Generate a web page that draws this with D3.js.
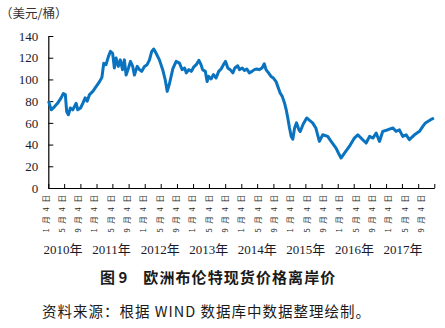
<!DOCTYPE html>
<html><head><meta charset="utf-8">
<script src="https://cdn.jsdelivr.net/npm/d3@7"></script>
<style>body{margin:0;background:#fff}svg{display:block}</style>
</head><body>
<svg id="c" width="445" height="328"></svg>
<script>
const dates = ["2010-01-06","2010-01-26","2010-02-21","2010-03-15","2010-04-11","2010-04-28","2010-05-13","2010-05-23","2010-06-05","2010-06-20","2010-07-08","2010-08-03","2010-08-15","2010-09-05","2010-09-22","2010-10-10","2010-10-25","2010-11-12","2010-12-07","2011-01-02","2011-01-27","2011-02-14","2011-02-28","2011-03-17","2011-04-04","2011-04-19","2011-05-06","2011-05-19","2011-06-01","2011-06-18","2011-07-03","2011-07-20","2011-08-03","2011-08-16","2011-09-03","2011-09-18","2011-10-05","2011-10-18","2011-11-08","2011-11-25","2011-12-12","2012-01-02","2012-01-22","2012-02-09","2012-02-26","2012-03-12","2012-03-29","2012-04-24","2012-05-19","2012-06-07","2012-06-22","2012-07-09","2012-08-04","2012-08-29","2012-09-23","2012-10-13","2012-11-01","2012-11-14","2012-12-03","2012-12-21","2013-01-08","2013-01-28","2013-02-17","2013-03-05","2013-03-17","2013-04-07","2013-04-20","2013-05-02","2013-05-20","2013-06-07","2013-06-27","2013-07-17","2013-08-04","2013-08-22","2013-09-07","2013-09-24","2013-10-12","2013-11-01","2013-11-16","2013-12-08","2013-12-21","2014-01-11","2014-01-28","2014-02-15","2014-03-06","2014-03-26","2014-04-13","2014-04-30","2014-05-20","2014-06-10","2014-06-27","2014-07-10","2014-07-29","2014-08-17","2014-09-04","2014-09-24","2014-10-07","2014-10-25","2014-11-10","2014-11-27","2014-12-10","2014-12-22","2015-01-04","2015-01-17","2015-01-29","2015-02-11","2015-02-26","2015-03-15","2015-03-26","2015-04-18","2015-05-14","2015-06-07","2015-06-28","2015-07-23","2015-08-18","2015-09-12","2015-10-20","2015-11-15","2015-12-22","2016-01-10","2016-01-29","2016-02-24","2016-04-01","2016-05-09","2016-06-04","2016-07-11","2016-08-06","2016-09-01","2016-09-26","2016-10-21","2016-11-15","2016-12-10","2017-01-18","2017-02-25","2017-03-20","2017-04-15","2017-05-10","2017-06-05","2017-06-29","2017-08-07","2017-09-14","2017-10-09","2017-10-29","2017-11-16","2017-12-16","2018-01-01"];
const prices = [80,72,75,78,83,87,86,70.5,67.5,73.7,72,78,72,73.7,78,83,80,86,89,93.6,98,102,115,113.6,121,125.8,124,110.5,119.7,112,118,109,118,104,110.5,116.6,112,104,112,109,107.4,112,113.6,118,125.8,128,124.3,118,109,99.7,89,96,110,116.6,115,109,110.5,106,109,107.4,111.3,113.6,117.6,113.6,109,107.4,98,102.8,100.4,104.4,101.3,107.4,109.6,113.6,116.6,110.5,109,106,110.5,112.6,109,110.5,108.3,109.6,106,107.4,109,109.6,109,110.5,114.4,109,106,102.8,101.3,98,93.6,87.5,84.4,78.3,72,64.5,55.3,47.5,45,55,60,54,52,59,64.5,62,60,55,42.9,49,47.5,42.9,36.8,32,27.6,32.2,38.3,46,49,44.5,41.4,47.5,46,50.6,42.9,52.2,53.7,55.3,52.2,53.5,47.5,49,44.5,49,52.2,56.7,59.9,61.3,63.5,64.5];
const yTicks = [0,20,40,60,80,100,120,140];
const years = ["2010年","2011年","2012年","2013年","2014年","2015年","2016年","2017年"];
const monthLabels = ["1月4日","5月4日","9月4日"];
const yUnit = "（美元/桶）";
const titleNo = "图 9";
const titleText = "欧洲布伦特现货价格离岸价";
const sourceText = "资料来源：根据 WIND 数据库中数据整理绘制。";

const svg = d3.select("#c");
const parse = d3.timeParse("%Y-%m-%d");
const data = dates.map((d,i)=>({t:parse(d), v:prices[i]}));

const x = d3.scaleTime().domain([new Date(2010,0,4), new Date(2018,0,4)]).range([48.3, 434.3]);
const y = d3.scaleLinear().domain([0,140]).range([188, 36]);

const tickDates = [];
for (let yr=2010; yr<=2017; yr++) for (const m of [0,4,8]) tickDates.push(new Date(yr,m,4));
tickDates.push(new Date(2018,0,4));

const xAxis = d3.axisBottom(x).tickValues(tickDates).tickSizeInner(-4).tickSizeOuter(0).tickFormat("");
const gx = svg.append("g").attr("transform",`translate(0,${y(0)})`).call(xAxis);
gx.select(".domain").attr("stroke","#000").attr("stroke-width",1.2);
gx.selectAll(".tick line").attr("stroke","#000").attr("stroke-width",1);

const yAxis = d3.axisLeft(y).tickValues(yTicks).tickSizeInner(-5).tickSizeOuter(0).tickPadding(10);
const gy = svg.append("g").attr("transform",`translate(${x.range()[0]},0)`).call(yAxis);
gy.select(".domain").attr("stroke","#000").attr("stroke-width",1.2);
gy.selectAll(".tick line").attr("stroke","#000");
gy.selectAll(".tick text").attr("font-family","'Liberation Serif', serif").attr("font-size",13).attr("fill","#1a1a2a");

svg.append("path").datum(data)
  .attr("fill","none").attr("stroke","#0a73bf").attr("stroke-width",3)
  .attr("stroke-linejoin","round")
  .attr("d", d3.line().x(d=>x(d.t)).y(d=>y(d.v)));

const labels = [];
years.forEach((yr,i)=>monthLabels.forEach(m=>labels.push(i+"|"+m)));
const lx = d3.scalePoint().domain(labels).range([45, 420.5]);
svg.append("g").selectAll("text").data(labels).join("text")
  .attr("transform", d=>`translate(${lx(d)},232.5) rotate(-90)`)
  .attr("text-anchor","start").attr("dominant-baseline","central")
  .attr("font-family","'Noto Sans CJK SC', sans-serif").attr("font-size",7.5)
  .attr("letter-spacing","4.7px").attr("fill","#2a2a2a")
  .text(d=>d.split("|")[1]);

const yx = d3.scalePoint().domain(years).range([63, 403]);
svg.append("g").selectAll("text").data(years).join("text")
  .attr("x", d=>yx(d)).attr("y",254).attr("text-anchor","middle")
  .attr("font-family","'Liberation Serif', 'Noto Sans CJK SC', serif").attr("font-size",13).attr("fill","#1a1a2a")
  .text(d=>d);

svg.append("text").attr("x",0).attr("y",18).attr("font-family","'Noto Sans CJK SC', sans-serif")
  .attr("font-size",12.5).attr("fill","#333").text(yUnit);

svg.append("text").attr("x",100).attr("y",283).attr("font-family","'Noto Sans CJK SC', sans-serif")
  .attr("font-size",15).attr("font-weight","bold").attr("fill","#1a1a1a").text(titleNo);
svg.append("text").attr("x",143.3).attr("y",283).attr("font-family","'Noto Sans CJK SC', sans-serif")
  .attr("font-size",15).attr("font-weight","bold").attr("fill","#1a1a1a")
  .attr("textLength",192).attr("lengthAdjust","spacing").text(titleText);

svg.append("text").attr("x",42).attr("y",317).attr("font-family","'Noto Sans CJK SC', sans-serif")
  .attr("font-size",14.5).attr("fill","#1a1a1a")
  .attr("textLength",328).attr("lengthAdjust","spacing").text(sourceText);
</script>
</body></html>
